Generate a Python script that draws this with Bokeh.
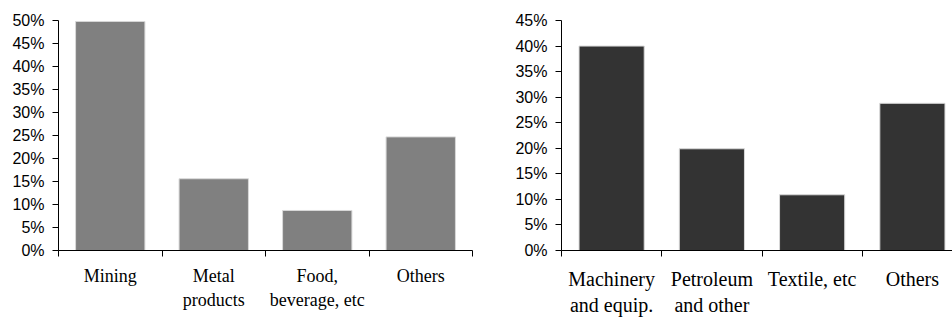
from bokeh.plotting import figure
from bokeh.layouts import row
from bokeh.models import FixedTicker, PrintfTickFormatter, Range1d, ColumnDataSource
from bokeh.embed import file_html
from bokeh.resources import INLINE

# ---- data ----
left_categories = ["Mining", "Metal\nproducts", "Food,\nbeverage, etc", "Others"]
left_values = [49.8, 15.6, 8.7, 24.7]
left_yticks = [0, 5, 10, 15, 20, 25, 30, 35, 40, 45, 50]

right_categories = ["Machinery\nand equip.", "Petroleum\nand other", "Textile, etc", "Others"]
right_values = [40.0, 19.9, 10.9, 28.8]
right_yticks = [0, 5, 10, 15, 20, 25, 30, 35, 40, 45]

LEFT_COLOR = "#808080"
RIGHT_COLOR = "#333333"


def make_chart(cats, vals, yticks, color, width, height, x_end, borders, label_size,
               label_standoff, bar_width):
    n = len(cats)
    centers = [i + 0.5 for i in range(n)]
    src = ColumnDataSource(dict(x=centers, top=vals))
    p = figure(width=width, height=height, output_backend="svg", toolbar_location=None,
               x_range=Range1d(0, x_end), y_range=Range1d(0, yticks[-1]),
               min_border_left=borders[0], min_border_right=borders[1],
               min_border_top=borders[2], min_border_bottom=borders[3])
    p.vbar(x="x", top="top", width=bar_width, source=src, fill_color=color,
           line_color="#d9d9d9", line_width=1)
    p.xgrid.visible = False
    p.ygrid.visible = False
    p.outline_line_color = None
    p.background_fill_color = "white"
    p.border_fill_color = "white"

    xa = p.xaxis[0]
    xa.ticker = FixedTicker(ticks=centers, minor_ticks=list(range(n + 1)))
    xa.major_label_overrides = {c: lab for c, lab in zip(centers, cats)}
    xa.major_tick_out = 0
    xa.major_tick_in = 0
    xa.minor_tick_out = 6
    xa.minor_tick_in = 0
    xa.minor_tick_line_color = "black"
    xa.axis_line_color = "black"
    xa.major_label_text_font = "Liberation Serif"
    xa.major_label_text_font_size = label_size
    xa.major_label_text_color = "black"
    xa.major_label_standoff = label_standoff

    ya = p.yaxis[0]
    ya.ticker = FixedTicker(ticks=yticks, minor_ticks=[])
    ya.formatter = PrintfTickFormatter(format="%d%%")
    ya.major_tick_out = 6
    ya.major_tick_in = 0
    ya.major_tick_line_color = "black"
    ya.axis_line_color = "black"
    ya.major_label_text_font = "Liberation Sans"
    ya.major_label_text_font_size = "16px"
    ya.major_label_text_color = "black"
    ya.major_label_standoff = 8
    return p


left = make_chart(left_categories, left_values, left_yticks, LEFT_COLOR,
                  width=480, height=318, x_end=4,
                  borders=(58, 8, 20, 67), label_size="18px", label_standoff=9,
                  bar_width=0.67)
right = make_chart(right_categories, right_values, right_yticks, RIGHT_COLOR,
                   width=472, height=318, x_end=3.9,
                   borders=(81, 0, 20, 67), label_size="20px", label_standoff=11,
                   bar_width=0.65)

layout = row(left, right)
open("out.html", "w").write(file_html(layout, INLINE))
